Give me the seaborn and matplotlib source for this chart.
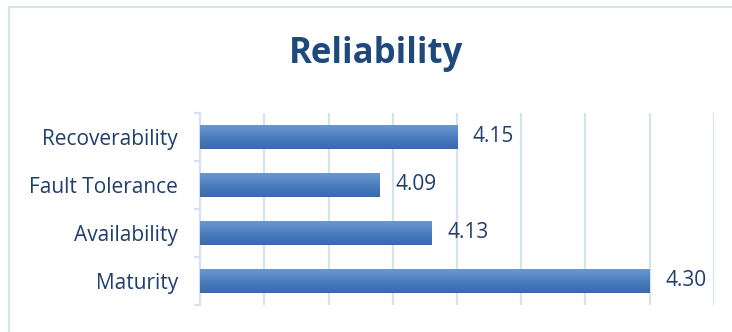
import matplotlib
matplotlib.use("Agg")
import matplotlib.pyplot as plt
import seaborn as sns
import numpy as np
import pandas as pd
from matplotlib.colors import LinearSegmentedColormap
from matplotlib.patches import Rectangle

categories = ["Recoverability", "Fault Tolerance", "Availability", "Maturity"]
values = [4.15, 4.09, 4.13, 4.30]
title = "Reliability"

sns.set_theme(style="white")
plt.rcParams['font.family'] = ['Open Sans', 'DejaVu Sans']

df = pd.DataFrame({"cat": categories, "val": values})

fig = plt.figure(figsize=(7.32, 3.32), dpi=100)
ax = fig.add_axes([200/732, 1-305/332, 514/732, 192/332])

grid_c = "#d6e2f1"
text_c = "#1f3f6e"

sns.barplot(data=df, y="cat", x="val", ax=ax, color="#4a7fc0", width=0.52,
            saturation=1, edgecolor="none", orient="h")

xlim = (3.95, 4.35)
ax.set_xlim(*xlim)
ylim = ax.get_ylim()

cmap = LinearSegmentedColormap.from_list("g", ["#7099d0", "#4a7fc0", "#3a69ab"])
grad = np.linspace(0, 1, 64).reshape(-1, 1)
for p in ax.patches:
    x0 = xlim[0]
    x1 = p.get_x() + p.get_width()
    y = p.get_y(); h = p.get_height()
    im = ax.imshow(grad, cmap=cmap, extent=(x0, x1, y + h, y), origin="upper",
                   aspect="auto", zorder=3)
    im.set_clip_path(p)
ax.set_xlim(*xlim)
ax.set_ylim(*ylim)

ax.set_xticks(np.arange(3.95, 4.351, 0.05))
ax.xaxis.grid(True, color=grid_c, linewidth=1.6)
ax.set_axisbelow(True)
ax.tick_params(axis="x", length=0, labelbottom=False)
ax.set_xlabel("")
ax.set_ylabel("")

for s in ["top", "right", "bottom"]:
    ax.spines[s].set_visible(False)
ax.spines["left"].set_color(grid_c)
ax.spines["left"].set_linewidth(1.6)

ax.set_yticks(np.arange(-0.5, len(categories), 1.0), minor=True)
ax.tick_params(axis="y", which="minor", length=4.5, width=1.6, color=grid_c, left=True)
ax.tick_params(axis="y", which="major", length=0, pad=16, labelsize=15, labelcolor=text_c)

for c in ax.containers:
    ax.bar_label(c, labels=[f"{v:.2f}" for v in values], padding=11.5,
                 fontsize=15, color=text_c)

fig.text(376/732, 1-54/332, title, ha="center", va="center", fontsize=25,
         fontweight="bold", color="#1f497d")

frame = Rectangle((9/732, -0.1), 1.2, 1-7/332+0.1, transform=fig.transFigure,
                  fill=False, edgecolor="#d9e3f0", linewidth=1.5, clip_on=False)
fig.patches.append(frame)

fig.savefig("out.png", dpi=100)
